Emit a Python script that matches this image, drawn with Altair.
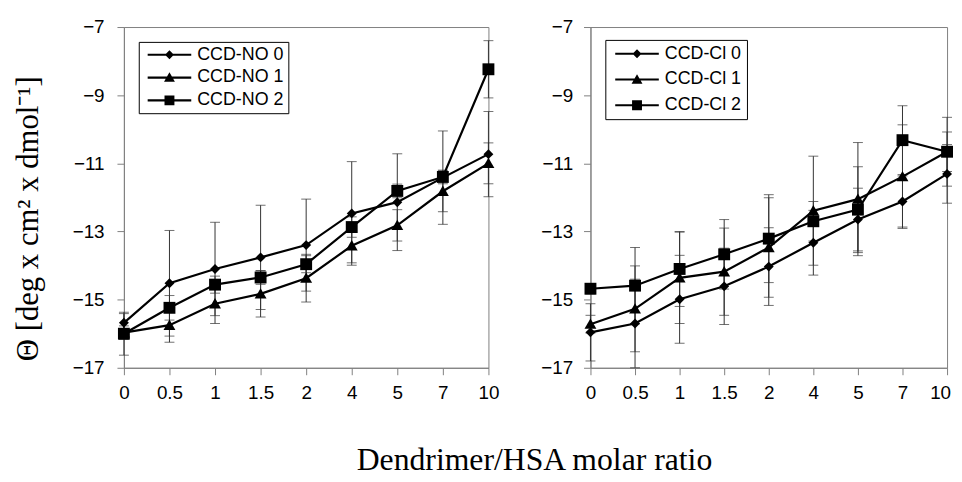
import altair as alt
import pandas as pd

# ---------------- data ----------------
x_labels = ["0", "0.5", "1", "1.5", "2", "4", "5", "7", "10"]

no_names = ["CCD-NO 0", "CCD-NO 1", "CCD-NO 2"]
no0 = [-15.68, -14.52, -14.10, -13.76, -13.40, -12.47, -12.14, -11.42, -10.73]
no0_err = [0.27, 1.55, 1.37, 1.53, 1.35, 1.52, 1.42, 1.37, 1.25]
no1 = [-15.97, -15.75, -15.12, -14.83, -14.37, -13.42, -12.82, -11.82, -11.00]
no1_err = [0.20, 0.50, 0.58, 0.68, 0.70, 0.50, 0.46, 0.60, 0.60]
no2 = [-16.00, -15.24, -14.56, -14.35, -13.96, -12.87, -11.81, -11.40, -8.24]
no2_err = [0.63, 0.36, 0.25, 0.20, 0.25, 0.30, 0.20, 0.20, 0.84]

cl_names = ["CCD-Cl 0", "CCD-Cl 1", "CCD-Cl 2"]
cl0 = [-15.96, -15.70, -14.99, -14.61, -14.03, -13.33, -12.65, -12.12, -11.31]
cl0_err = [0.84, 1.30, 1.29, 1.12, 1.14, 0.95, 0.92, 0.75, 0.86]
cl1 = [-15.72, -15.27, -14.36, -14.18, -13.47, -12.39, -12.05, -11.39, -10.66]
cl1_err = [0.26, 1.26, 1.34, 1.28, 1.46, 1.60, 1.66, 1.52, 0.58]
cl2 = [-14.68, -14.59, -14.10, -13.67, -13.21, -12.70, -12.36, -10.32, -10.66]
cl2_err = [0.15, 1.12, 1.10, 1.02, 1.29, 0.58, 1.26, 1.01, 1.01]

y_ticks = [-17, -15, -13, -11, -9, -7]
y_title = "\u0398 [deg x cm\u00b2 x dmol\u207b\u00b9]"
x_title = "Dendrimer/HSA molar ratio"

# marker paths (unit space) for diamond, triangle, square
marker_paths = [
    "M0,-1L1,0L0,1L-1,0Z",
    "M0,-1.15L1.2,0.95L-1.2,0.95Z",
    "M-1.2,-1.2H1.2V1.2H-1.2Z",
]
# legend symbols: a short line (thin filled bar) through the marker
BAR = "M-4.4,-0.22H4.4V0.22H-4.4Z"
legend_marker_paths = [
    BAR + "M0,-0.9L0.9,0L0,0.9L-0.9,0Z",
    BAR + "M0,-1.05L1.1,0.85L-1.1,0.85Z",
    BAR + "M-1,-1H1V1H-1Z",
]


def make_df(names, vals, errs):
    rows = []
    for name, v, e in zip(names, vals, errs):
        for xl, vv, ee in zip(x_labels, v, e):
            rows.append({"ratio": xl, "series": name, "value": vv,
                         "lo": vv - ee, "hi": vv + ee})
    return pd.DataFrame(rows)


AX_GRAY = "#808080"
SANS = "Liberation Sans"
SERIF = "Liberation Serif"


def panel(df, names, width, lx, ly, lpad, lrow, label_pad, with_title,
          last_shift):
    xenc = alt.X("ratio:O", sort=x_labels,
                 scale=alt.Scale(type="point", padding=0),
                 axis=alt.Axis(title=None, labelAngle=0, labelFont=SANS,
                               labelFontSize=19, labelColor="black",
                               labelPadding=9, tickSize=7, tickColor=AX_GRAY,
                               domainColor=AX_GRAY, grid=False,
                               labelOffset={"condition": {
                                   "test": "datum.label == '10'",
                                   "value": last_shift}, "value": 0}))
    yscale = alt.Scale(domain=[-17, -7], nice=False, zero=False)
    common = dict(values=y_ticks, labelFont=SANS, labelFontSize=19,
                  labelColor="black", labelPadding=label_pad, tickSize=7,
                  tickColor=AX_GRAY, domainColor=AX_GRAY, grid=False)
    if with_title:
        yaxis = alt.Axis(title=y_title, titleFont=SERIF,
                         titleFontSize=31, titleFontWeight="normal",
                         titleColor="black", titleX=-80, titleY=193,
                         titleAngle=270, titleBaseline="bottom",
                         titleAlign="center", **common)
    else:
        yaxis = alt.Axis(title=None, **common)

    base = alt.Chart(df)
    rules = base.mark_rule(color="#333333", strokeWidth=1).encode(
        x=xenc, y=alt.Y("lo:Q", scale=yscale, axis=yaxis), y2="hi:Q")
    cap_lo = base.mark_tick(color="#333333", thickness=1, size=10).encode(
        x=xenc, y=alt.Y("lo:Q", scale=yscale))
    cap_hi = base.mark_tick(color="#333333", thickness=1, size=10).encode(
        x=xenc, y=alt.Y("hi:Q", scale=yscale))
    lines = base.mark_line(color="black", strokeWidth=2.2).encode(
        x=xenc, y=alt.Y("value:Q", scale=yscale), detail="series:N")
    points = base.mark_point(filled=True, color="black", opacity=1,
                             size=100).encode(
        x=xenc, y=alt.Y("value:Q", scale=yscale),
        shape=alt.Shape("series:N",
                        scale=alt.Scale(domain=names, range=marker_paths),
                        legend=None))
    legend = alt.Legend(
        title=None, orient="none", legendX=lx, legendY=ly,
        direction="vertical", strokeColor="black", fillColor="white",
        padding=lpad, rowPadding=lrow, labelFont=SANS, labelFontSize=18,
        labelColor="black", labelOffset=19, symbolSize=100,
        symbolOffset=18, symbolFillColor="black", symbolOpacity=1)
    legend_layer = base.transform_filter("false").mark_point(
        filled=True, color="black", opacity=1, size=100).encode(
        x=xenc, y=alt.Y("value:Q", scale=yscale),
        shape=alt.Shape("series:N",
                        scale=alt.Scale(domain=names,
                                        range=legend_marker_paths),
                        legend=legend))
    return alt.layer(rules, cap_lo, cap_hi, lines, points,
                     legend_layer).resolve_scale(shape="independent").properties(
        width=width, height=344)


left = panel(make_df(no_names, [no0, no1, no2], [no0_err, no1_err, no2_err]),
             no_names, 368, 15, 15, 4, 5, 13, True, 0)
right = panel(make_df(cl_names, [cl0, cl1, cl2], [cl0_err, cl1_err, cl2_err]),
              cl_names, 360, 15, 13, 5, 8, 11, False, -7)

chart = alt.hconcat(left, right, spacing=40).resolve_scale(
    shape="independent", y="independent", x="independent"
).resolve_legend(shape="independent").properties(
    title=alt.TitleParams(x_title, orient="bottom", anchor="middle",
                          font=SERIF, fontSize=32, fontWeight="normal",
                          color="black", offset=43, dx=52),
    padding={"left": 4, "top": 7, "right": 0, "bottom": -7},
    background="white",
).configure_view(stroke=AX_GRAY, strokeWidth=1)

chart.save("out.html", embed_options={"renderer": "svg", "actions": False})
